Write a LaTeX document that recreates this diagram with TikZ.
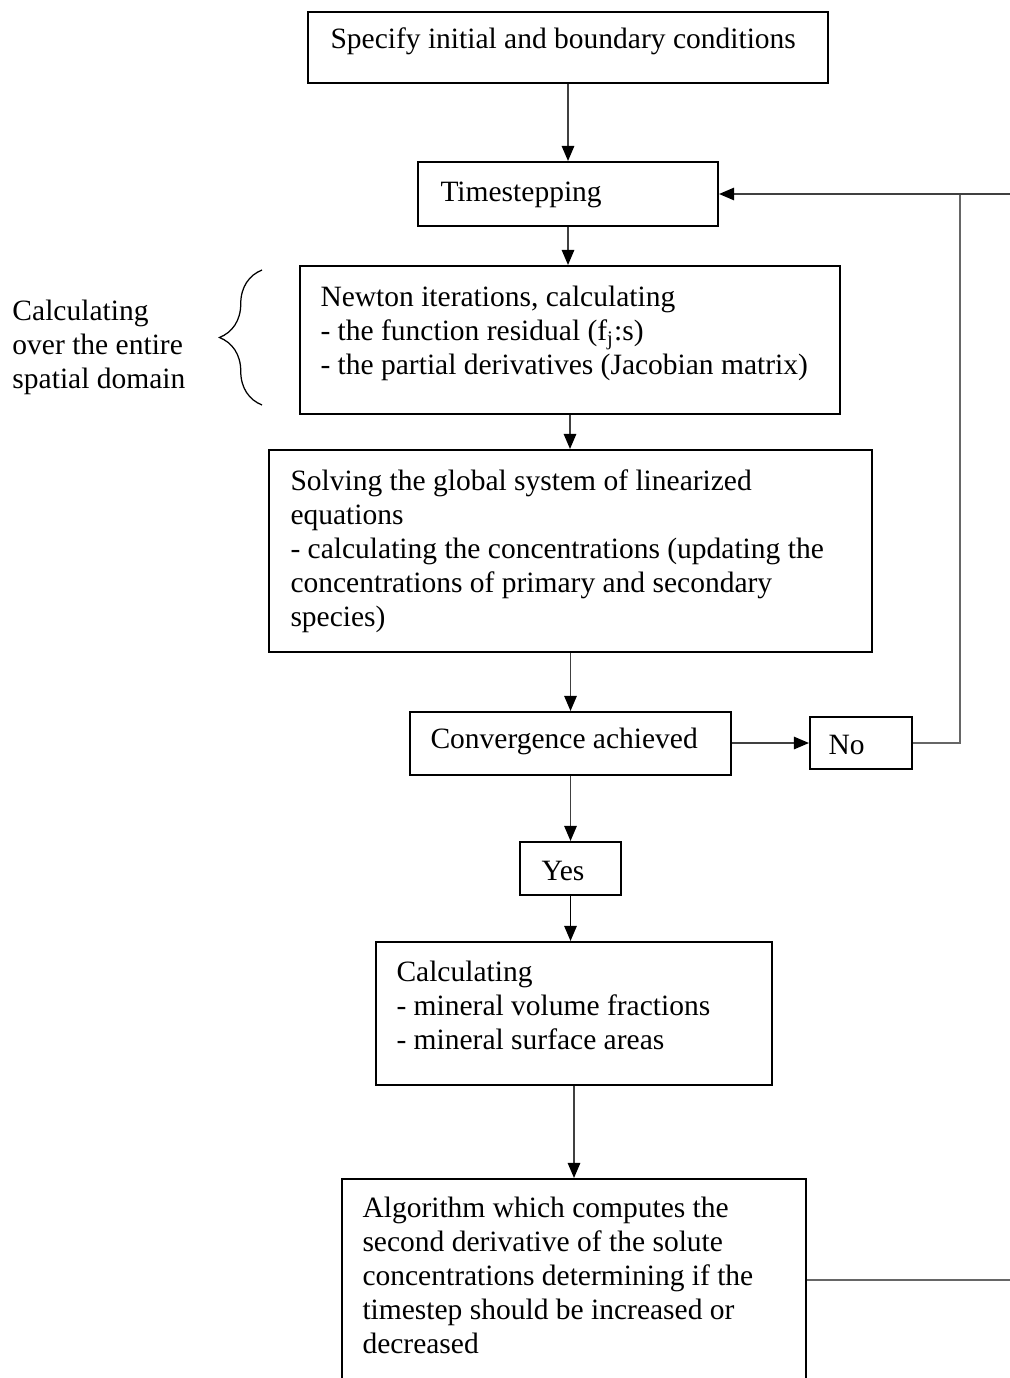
\documentclass[tikz,border=0pt]{standalone}
\usepackage{fontspec}
\setmainfont{Liberation Serif}
\usetikzlibrary{arrows.meta,fit,decorations.pathreplacing}

\tikzset{
  box/.style={draw, line width=0.85pt, inner sep=0pt},
  txt/.style={inner sep=0pt, align=left, anchor=north west, font=\fontsize{11.8}{13.6}\selectfont},
  conn/.style={line width=0.5pt, draw=black!75, -{Triangle[length=6pt,width=5pt,color=black]}},
  back/.style={line width=0.5pt, draw=black!60},
}

\begin{document}
\begin{tikzpicture}[x=0.4pt,y=-0.4pt]
	\clip (0,0) rectangle (1010,1378);

	% boxes
	\node[box, fit={(308,12) (828,83)}] (spec) {};
	\node[box, fit={(418,162) (718,226)}] (time) {};
	\node[box, fit={(300,266) (840,414)}] (newton) {};
	\node[box, fit={(269,450) (872,652)}] (solve) {};
	\node[box, fit={(410,712) (731,775)}] (conv) {};
	\node[box, fit={(810,717) (912,769)}] (no) {};
	\node[box, fit={(520,842) (621,895)}] (yes) {};
	\node[box, fit={(376,942) (772,1085)}] (calc) {};
	\node[box, fit={(342,1179) (806,1381)}] (algo) {};

	% texts
	\node[txt] (spectext) at (330,27) {Specify initial and boundary conditions};
	\node[txt] (timetext) at (440,181) {Timestepping};
	\node[txt] (newtontext) at (320,286) {Newton iterations, calculating\\- the function residual (f\textsubscript{j}:s)\\- the partial derivatives (Jacobian matrix)};
	\node[txt] (solvetext) at (290,469) {Solving the global system of linearized\\equations\\- calculating the concentrations (updating the\\concentrations of primary and secondary\\species)};
	\node[txt] (convtext) at (430,728) {Convergence achieved};
	\node[txt] (notext) at (828,735) {No};
	\node[txt] (yestext) at (541,861) {Yes};
	\node[txt] (calctext) at (396,961) {Calculating\\- mineral volume fractions\\- mineral surface areas};
	\node[txt] (algotext) at (362,1197) {Algorithm which computes the\\second derivative of the solute\\concentrations determining if the\\timestep should be increased or\\decreased};
	\node[txt] (domaintext) at (12,300) {Calculating\\over the entire\\spatial domain};

	% brace
	\coordinate (bracetop) at (262,270);
	\coordinate (bracebot) at (262,405);
	\draw[line width=0.5pt, decorate, decoration={brace, amplitude=17pt}] (bracebot) -- (bracetop);

	% flow
	\draw[conn] (spec.south) -- (spec.south |- time.north);
	\draw[conn] (time.south) -- (time.south |- newton.north);
	\draw[conn] (newton.south) -- (newton.south |- solve.north);
	\draw[conn] (solve.south) -- (solve.south |- conv.north);
	\draw[conn] (conv.east |- no.west) -- (no.west);
	\draw[conn] (conv.south) -- (conv.south |- yes.north);
	\draw[conn, draw=black] (yes.south) -- (yes.south |- calc.north);
	\draw[conn] (calc.south) -- (calc.south |- algo.north);

	% loop back
	\coordinate (loopx) at (960,0);
	\coordinate (edgex) at (1010,0);
	\draw[back] (no.east) -| (time.east -| loopx);
	\draw[conn] (time.east -| edgex) -- (time.east);
	\draw[back] (algo.east) -- (algo.east -| edgex);
\end{tikzpicture}
\end{document}
